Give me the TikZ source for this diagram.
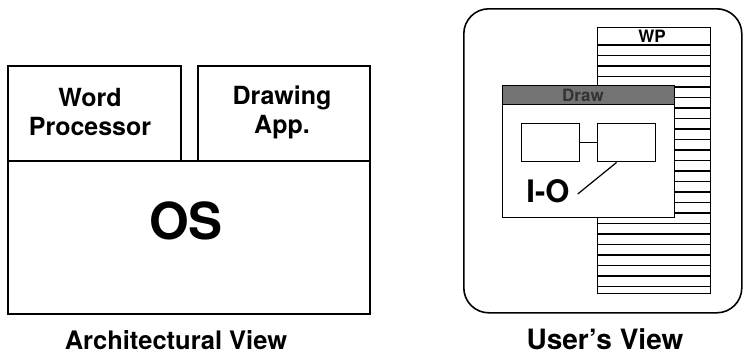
\documentclass[tikz,border=0pt]{standalone}
\usepackage{fontspec}
\setmainfont{TeX Gyre Heros}
\usetikzlibrary{calc}
\tikzset{
  box/.style={draw, line width=1.6pt, fill=white, inner sep=0pt, anchor=north west},
  lbl/.style={font=\bfseries\fontsize{25}{29}\selectfont, align=center, inner sep=0pt},
  stripe/.style={line width=1.5pt},
  thin/.style={line width=1.2pt}
}
\begin{document}
\begin{tikzpicture}[x=1pt,y=-1pt]
\useasboundingbox (0,0) rectangle (744,354);
% ---------- Architectural view ----------
\node[box, minimum width=173, minimum height=95] (wproc) at (7,65) {};
\node[lbl] (wproctext) at (90,112) {Word\\Processor};
\node[box, minimum width=172, minimum height=95] (dapp) at (197,65) {};
\node[lbl] (dapptext) at (282,112) {Drawing\\App.};
\node[box, minimum width=362, minimum height=153] (os) at (7,160) {};
\node[font=\bfseries\fontsize{51}{53}\selectfont, inner sep=0pt] (ostext) at (186,221) {OS};
\node[font=\bfseries\fontsize{25.5}{29}\selectfont, inner sep=0pt] (archlbl) at (176,340) {Architectural View};
% ---------- User's view ----------
\node[box, rounded corners=25pt, minimum width=278, minimum height=304] (screen) at (463,8) {};
% WP window
\node[box, line width=1.4pt, minimum width=113, minimum height=266] (wpwin) at (597,27) {};
\draw[stripe] (597,45) -- (710,45);
\foreach \k in {1,...,23}{
  \draw[stripe] (597,{45+\k*10.5}) -- (710,{45+\k*10.5});
}
\node[font=\bfseries\fontsize{17}{17}\selectfont, inner sep=0pt] (wptitle) at (652,36) {WP};
% Draw window
\node[box, line width=1.4pt, minimum width=172, minimum height=132] (drawwin) at (502,85) {};
\node[draw, line width=1.4pt, fill=black!55, inner sep=0pt, anchor=north west, minimum width=172, minimum height=19] (drawbar) at (502,85) {};
\node[font=\bfseries\fontsize{17}{17}\selectfont, text=black!80, inner sep=0pt] (drawtitle) at (583,95) {Draw};
\node[box, line width=1.4pt, minimum width=58, minimum height=38] (b1) at (521,123) {};
\node[box, line width=1.4pt, minimum width=58, minimum height=38] (b2) at (597,123) {};
\draw[thin] (b1) -- (b2);
\node[font=\bfseries\fontsize{31}{31}\selectfont, inner sep=0pt] (io) at (548,191) {I-O};
\draw[thin] ([xshift=8pt,yshift=-3pt]io.east) -- ($(b2.south west)!0.33!(b2.south east)$);
\node[font=\bfseries\fontsize{28}{30}\selectfont, inner sep=0pt] (userlbl) at (605,339) {User’s View};
\end{tikzpicture}
\end{document}
